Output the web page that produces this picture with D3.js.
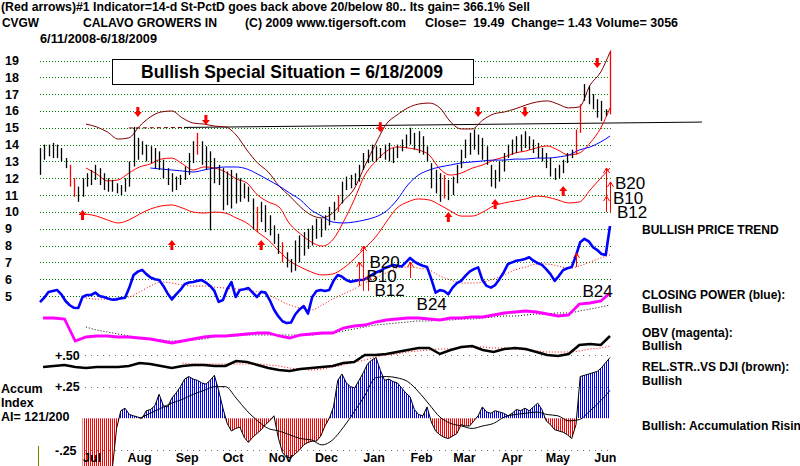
<!DOCTYPE html>
<html>
<head>
<meta charset="utf-8">
<script src="https://cdnjs.cloudflare.com/ajax/libs/d3/7.8.5/d3.min.js"></script>
<style>
  body { margin: 0; background: #fff; }
  text { font-family: Arial, "Liberation Sans", sans-serif; }
</style>
</head>
<body>
<div id="chart"></div>
<script>
let startDate = new Date(2008, 5, 11)
let endDate = new Date(2009, 5, 18)

let priceTicks = [19, 18, 17, 16, 15, 14, 13, 12, 11, 10, 9, 8, 7, 6, 5]
let monthLabels = ['Jul', 'Aug', 'Sep', 'Oct', 'Nov', 'Dec', 'Jan', 'Feb', 'Mar', 'Apr', 'May', 'Jun']
let monthDates = ['2008-07-15', '2008-08-15', '2008-09-15', '2008-10-15', '2008-11-15', '2008-12-15',
  '2009-01-15', '2009-02-15', '2009-03-15', '2009-04-15', '2009-05-15', '2009-06-15']
let aiTicks = [0.5, 0.25, -0.25]
let aiTickLabels = ['+.50', '+.25', '-.25']

// daily bars, sampled every other session
let barHigh = [13.8, 14.0, 14.0, 14.1, 14.0, 13.8, 13.2, 12.8, 12.0, 11.5,
  12.0, 12.3, 12.5, 12.8, 12.6, 12.3, 12.0, 11.9, 11.7, 11.6,
  12.0, 13.0, 15.05, 14.4, 14.2, 14.0, 13.9, 13.8, 13.6, 13.1,
  12.6, 12.3, 12.1, 12.2, 12.7, 13.5, 14.2, 14.7, 14.2, 13.9,
  13.6, 13.2, 12.8, 12.6, 12.4, 12.5, 12.3, 12.0, 11.7, 11.5,
  10.8, 10.3, 10.6, 10.4, 9.8, 9.2, 8.7, 8.2, 7.6, 7.2,
  8.3, 8.6, 8.8, 9.0, 9.2, 9.6, 9.6, 9.8, 10.3, 10.6,
  11.0, 11.8, 12.1, 12.2, 12.3, 12.8, 13.5, 13.7, 14.0, 13.9,
  13.8, 14.0, 14.1, 13.8, 14.0, 14.3, 14.6, 15.0, 14.7, 14.8,
  14.5, 13.9, 12.9, 12.5, 12.3, 12.2, 11.9, 12.1, 12.8, 13.7,
  14.3, 14.7, 14.9, 14.6, 14.4, 13.9, 12.8, 12.5, 13.0, 13.5,
  14.0, 14.3, 14.5, 14.6, 14.8, 14.5, 14.3, 14.1, 13.8, 13.5,
  13.2, 12.6, 12.8, 13.1, 13.5, 13.7, 14.9, 16.4, 17.6, 17.5,
  17.0, 16.7, 16.6, 16.1, 19.6]
let barLow = [12.2, 13.1, 13.3, 13.2, 13.2, 13.0, 12.6, 11.5, 10.9, 10.6,
  10.9, 11.5, 11.6, 11.9, 11.6, 11.3, 11.2, 11.2, 11.1, 11.0,
  11.2, 11.5, 12.7, 13.1, 13.4, 13.0, 12.9, 12.6, 12.5, 12.0,
  11.6, 11.2, 11.3, 11.6, 11.9, 12.2, 12.9, 13.4, 12.8, 12.5,
  8.9, 11.7, 11.6, 10.1, 10.4, 10.2, 10.5, 10.6, 10.8, 10.6,
  9.0, 8.8, 9.4, 8.8, 8.6, 8.1, 7.5, 7.0, 6.7, 6.4,
  6.5, 7.0, 7.4, 7.8, 8.0, 8.4, 8.5, 8.9, 9.2, 9.5,
  10.0, 10.5, 11.3, 11.4, 11.6, 11.8, 12.5, 12.9, 13.0, 13.0,
  13.2, 13.1, 13.0, 12.9, 13.2, 13.6, 13.8, 14.0, 13.7, 13.5,
  13.4, 13.0, 11.4, 11.1, 10.6, 10.8, 10.7, 11.0, 11.7, 12.6,
  13.2, 13.4, 13.7, 13.4, 13.1, 12.8, 11.5, 11.4, 11.8, 12.4,
  13.2, 13.4, 13.5, 13.6, 13.8, 13.7, 13.5, 13.2, 13.0, 12.6,
  12.1, 11.9, 12.0, 12.3, 12.9, 13.2, 13.4, 14.7, 16.6, 16.4,
  16.1, 15.6, 15.4, 15.7, 15.8]
let redBars = [7, 8, 37, 51, 57, 70, 95, 126, 127, 134]

// closing power (drawn on the price scale), same sessions as the bars
let closingPower = [4.64, 4.9, 5.24, 5.3, 5.36, 5.1, 4.7, 4.45, 4.3, 4.29,
  4.94, 5.06, 5.06, 5.2, 5.0, 4.94, 4.85, 4.78, 4.8, 4.86,
  4.9, 5.5, 6.25, 6.45, 6.55, 6.3, 6.1, 6.0, 5.95, 5.6,
  5.15, 4.8, 5.1, 5.36, 5.7, 5.8, 5.83, 5.9, 5.95, 5.8,
  5.6, 5.3, 4.65, 4.76, 5.4, 5.83, 4.94, 5.36, 5.4, 5.47,
  5.2, 4.94, 5.25, 5.2, 4.76, 4.2, 3.8, 3.5, 3.39, 3.42,
  3.9, 4.2, 4.4, 3.95, 4.94, 5.3, 5.36, 5.3, 5.36, 5.9,
  6.25, 6.15, 5.95, 5.85, 5.9, 5.95, 5.95, 6.1, 6.25, 6.4,
  6.5, 6.65, 6.75, 6.84, 6.8, 6.75, 7.0, 7.26, 7.05, 6.9,
  6.8, 6.72, 6.0, 5.2, 5.35, 5.3, 5.1, 5.5, 5.77, 5.9,
  6.2, 6.45, 6.6, 6.7, 5.95, 5.6, 5.5, 5.65, 6.0, 6.4,
  6.9, 7.0, 7.1, 7.14, 7.2, 7.3, 7.1, 6.96, 6.85, 6.6,
  6.3, 5.9, 6.2, 6.55, 6.65, 6.72, 7.4, 8.2, 8.4, 8.25,
  7.9, 7.73, 7.5, 7.44, 9.16]

// accumulation index, same sessions as the bars
let accumIndex = [null, null, null, null, null, null, null, null, null, null,
  -0.4, -0.4, -0.4, -0.4, -0.4, -0.4, -0.4, -0.4, -0.08, 0.06,
  0.08, 0.03, 0.02, 0.01, 0.0, 0.06, 0.07, 0.1, 0.19, 0.1,
  0.09, 0.16, 0.2, 0.25, 0.31, 0.33, 0.31, 0.3, 0.28, 0.27,
  0.3, 0.34, 0.22, 0.08, -0.04, -0.1, -0.08, -0.07, -0.15, -0.19,
  -0.15, -0.12, -0.09, -0.05, -0.02, 0.02, -0.15, -0.27, -0.31, -0.31,
  -0.28, -0.25, -0.21, -0.19, -0.18, -0.18, -0.14, -0.06, 0.0, 0.09,
  0.3, 0.35, 0.28, 0.25, 0.24, 0.3, 0.36, 0.43, 0.46, 0.48,
  0.38, 0.3, 0.31, 0.29, 0.28, 0.24, 0.2, 0.17, 0.07, 0.03,
  0.02, 0.09, -0.03, -0.1, -0.13, -0.15, -0.16, -0.14, -0.12, -0.05,
  -0.06, -0.06, -0.02, 0.02, 0.09, 0.05, 0.04, 0.06, 0.05, 0.04,
  0.02, 0.04, 0.07, 0.06, 0.08, 0.06, 0.09, 0.12, 0.07, -0.02,
  -0.05, -0.09, -0.1, -0.11, -0.13, -0.16, -0.05, 0.33, 0.34, 0.35,
  0.36, 0.37, 0.4, 0.44, 0.48]

// weekly series (Fridays, last point 6/18/2009)
let upperBand = [null, null, null, null, 15.22, 15.05, 14.75, 14.33, 14.4, 15.1,
  15.64, 15.94, 16.0, 15.58, 15.28, 15.22, 15.1, 15.05, 14.57, 13.68,
  12.91, 12.37, 11.54, 10.94, 10.29, 9.81, 9.64, 9.93, 10.65, 11.36,
  12.73, 14.04, 15.22, 15.76, 16.18, 16.41, 16.47, 16.18, 15.34, 14.93,
  14.93, 15.46, 15.82, 15.94, 16.12, 16.35, 16.53, 16.6, 16.41, 16.18,
  16.24, 17.54, 18.32, 19.5]
let midAverage = [null, null, null, null, 12.61, 12.25, 11.84, 11.9, 12.31, 12.67,
  12.85, 13.14, 13.2, 12.85, 12.49, 12.67, 12.61, 12.37, 11.96, 11.72,
  11.0, 10.59, 10.29, 9.28, 8.69, 8.21, 7.97, 8.33, 9.4, 10.71,
  12.19, 13.0, 13.6, 13.86, 13.8, 13.68, 13.38, 12.55, 12.19, 12.31,
  12.6, 12.79, 13.08, 13.26, 13.5, 13.62, 13.8, 13.92, 13.68, 13.38,
  13.5, 14.1, 14.99, 16.18]
let lowerBand = [null, null, null, null, 9.87, 9.75, 9.52, 9.34, 9.52, 9.87,
  10.17, 10.35, 10.41, 10.23, 9.99, 9.93, 9.99, 9.93, 9.64, 9.34,
  8.8, 8.33, 7.67, 7.08, 6.72, 6.43, 6.25, 6.31, 6.66, 7.2,
  7.85, 8.5, 9.4, 10.23, 10.59, 10.77, 10.71, 10.41, 10.05, 9.75,
  9.75, 9.99, 10.35, 10.53, 10.65, 10.77, 10.94, 10.88, 10.71, 10.53,
  10.59, 11.3, 12.01, 12.61]
let longAverage = [null, null, null, null, null, null, null, null, null, null,
  12.61, 12.55, 12.49, 12.43, 12.37, 12.49, 12.61, 12.67, 12.67, 12.55,
  12.25, 11.9, 11.54, 11.12, 10.71, 10.11, 9.75, 9.4, 9.34, 9.4,
  9.52, 9.7, 10.05, 10.71, 11.6, 12.19, 12.49, 12.67, 12.79, 12.91,
  12.97, 13.03, 13.08, 13.08, 13.14, 13.14, 13.2, 13.2, 13.26, 13.38,
  13.68, 13.86, 14.16, 14.51]
let closingPowerMA = [null, null, null, null, 4.88, 4.82, 4.82, 4.88, 4.94, 5.24,
  5.59, 5.83, 5.77, 5.65, 5.59, 5.59, 5.53, 5.47, 5.42, 5.36,
  5.24, 5.06, 4.76, 4.46, 4.29, 4.17, 4.46, 4.82, 5.12, 5.42,
  5.77, 6.07, 6.37, 6.66, 6.72, 6.66, 6.55, 6.19, 5.95, 5.77,
  5.77, 5.83, 6.01, 6.25, 6.55, 6.72, 6.9, 6.9, 6.78, 6.66,
  6.78, 7.02, 7.26, 7.44]
let obv = [27, 27, 26, 4, 8, 9, 9, 8, 8, 7,
  6, 4, 2, 4, 6, 8, 9, 9, 10, 11,
  12, 12, 9, 7, 10, 11, 12, 12, 17, 19,
  20, 23, 25, 26, 27, 27, 26, 25, 27, 27,
  28, 28, 30, 32, 33, 34, 33, 31, 29, 30,
  41, 42, 44, 52]
let obvMA = [null, null, null, null, 18, 15, 13, 11, 9, 7,
  6, 5, 4, 4, 5, 6, 8, 9, 9, 10,
  10, 10, 10, 10, 10, 10, 11, 12, 14, 16,
  18, 20, 21, 22, 23, 24, 24, 25, 25, 26,
  26, 27, 28, 29, 29, 30, 31, 31, 32, 32,
  34, 36, 38, 40]
let relStrength = [33, 34, 35, 33, 32, 33, 33, 33, 34, 37,
  36, 34, 32, 34, 35, 35, 34, 34, 39, 38,
  35, 32, 30, 29, 31, 32, 33, 34, 37, 38,
  45, 45, 46, 48, 50, 52, 52, 46, 50, 53,
  54, 50, 48, 51, 52, 51, 48, 45, 44, 46,
  55, 56, 55, 64]
let relStrengthMA = [null, null, null, null, null, null, null, null, null, null,
  null, null, null, 37, 36, 36, 36, 36, 36, 36,
  36, 35, 34, 32, 31, 30, 31, 33, 35, 38,
  40, 43, 45, 46, 48, 49, 50, 51, 51, 52,
  53, 53, 52, 52, 51, 50, 49, 48, 48, 48,
  49, 51, 52, 54]
let accumIndexMA = [null, null, null, null, null, null, null, null, null, 0.0,
  0.04, 0.08, 0.12, 0.15, 0.19, 0.22, 0.25, 0.25, 0.16, 0.06,
  -0.02, -0.08, -0.1, -0.13, -0.16, -0.17, -0.21, -0.17, -0.07, 0.05,
  0.18, 0.32, 0.33, 0.32, 0.29, 0.21, 0.11, 0.01, -0.04, -0.06,
  -0.08, -0.06, -0.04, 0.01, 0.03, 0.04, 0.05, 0.03, 0.02, -0.02,
  -0.01, 0.06, 0.14, 0.22]

// signals: [bar, price at arrow tip]
let sellArrows = [[23, 15.64], [39, 15.16], [80, 14.74], [103, 15.64], [114, 15.64], [131, 18.55]]
let buyArrows = [[10, 10.11], [31, 8.33], [52, 8.33], [96, 9.99], [107, 10.77], [123, 11.54]]
// thin buy signals: [bar, from price, to price]
let thinArrows = [[75, 5.6, 7.02], [76, 5.3, 7.97], [77, 5.3, 6.25], [87, 6.07, 7.02],
  [126, 6.72, 7.56], [133, 10.0, 12.61], [134, 10.0, 11.78], [133, 10.0, 10.94]]
let signalNames = ['B20', 'B10', 'B12', 'B24', 'B24', 'B20', 'B10', 'B12']
let signalBars = [77, 77, 77, 89, 128, 134, 134, 134]
let signalLevels = [6.66, 5.83, 5.0, 4.17, 4.94, 11.36, 10.47, 9.64]
let signalShift = [2, -1, 7, -2, -2, 5, 3, 7]

let resistDates = [new Date(2008, 7, 8), new Date(2008, 8, 13), new Date(2009, 7, 17)]
let resistLevels = [14.99, 15.02, 15.34]

let headerLine1 = '(Red arrows)#1 Indicator=14-d St-PctD goes back above 20/below 80.. Its gain= 366.1% Sell'
let rightNotes = ['BULLISH PRICE TREND', 'CLOSING POWER (blue):', 'Bullish', 'OBV (magenta):', 'Bullish',
  'REL.STR..VS DJI (brown):', 'Bullish', 'Bullish: Accumulation Rising']
let rightNoteY = [234, 299, 313, 337, 350, 371, 385, 430]

function draw() {
  let svg = d3.select('#chart').append('svg').attr('width', 800).attr('height', 466)
  svg.append('rect').attr('width', 800).attr('height', 466).attr('fill', '#fff')

  let x = d3.scaleTime().domain([startDate, endDate]).range([40, 610])
  let y = d3.scaleLinear().domain([5, 19]).range([296, 60.5])
  let aiY = d3.scaleLinear().domain([-0.25, 0.5]).range([450, 355])
  let obvY = d3.scaleLinear().domain([0, 100]).range([345, 245])
  let rsY = d3.scaleLinear().domain([0, 100]).range([400, 300])

  let n = barHigh.length
  let barDates = barHigh.map(function(d, i) { return new Date(+startDate + i * (endDate - startDate) / (n - 1)) })
  let weekDates = d3.timeFriday.range(new Date(2008, 5, 12), new Date(2009, 5, 13)).concat([endDate])
  let bx = function(i) { return x(barDates[i]) }

  let defs = svg.append('defs')
  function hatch(id, color) {
    let p = defs.append('pattern').attr('id', id).attr('patternUnits', 'userSpaceOnUse')
      .attr('width', 2).attr('height', 4)
    p.append('rect').attr('width', 1).attr('height', 4).attr('fill', color)
  }
  hatch('hatchBlue', '#0000ff')
  hatch('hatchRed', '#ff0000')
  defs.append('clipPath').attr('id', 'clipPos').append('rect')
    .attr('x', 0).attr('y', 0).attr('width', 800).attr('height', aiY(0))
  defs.append('clipPath').attr('id', 'clipNeg').append('rect')
    .attr('x', 0).attr('y', aiY(0)).attr('width', 800).attr('height', 466 - aiY(0))

  // header
  let hdr = svg.append('g').attr('font-weight', 'bold').attr('font-size', '12.5px').attr('fill', '#000')
  hdr.append('text').attr('x', 1).attr('y', 11).attr('textLength', 529).attr('lengthAdjust', 'spacingAndGlyphs').text(headerLine1)
  hdr.append('text').attr('x', 2).attr('y', 27).attr('textLength', 37).attr('lengthAdjust', 'spacingAndGlyphs').text('CVGW')
  hdr.append('text').attr('x', 83).attr('y', 27).attr('textLength', 134).attr('lengthAdjust', 'spacingAndGlyphs').text('CALAVO GROWERS IN')
  hdr.append('text').attr('x', 245).attr('y', 27).attr('textLength', 161).attr('lengthAdjust', 'spacingAndGlyphs').text('(C) 2009 www.tigersoft.com')
  hdr.append('text').attr('x', 425).attr('y', 27).attr('textLength', 253).attr('lengthAdjust', 'spacingAndGlyphs')
    .attr('xml:space', 'preserve').style('white-space', 'pre').text('Close=  19.49  Change= 1.43 Volume= 3056')
  hdr.append('text').attr('x', 40).attr('y', 43).attr('textLength', 117).attr('lengthAdjust', 'spacingAndGlyphs').text('6/11/2008-6/18/2009')

  // price grid
  let grid = svg.append('g')
  grid.selectAll('line').data(priceTicks).enter().append('line')
    .attr('x1', 40).attr('x2', 612)
    .attr('y1', function(d) { return Math.round(y(d)) + 0.5 })
    .attr('y2', function(d) { return Math.round(y(d)) + 0.5 })
    .attr('stroke', '#008000').attr('stroke-dasharray', '1,2')
  svg.append('g').attr('font-weight', 'bold').attr('font-size', '12.5px')
    .selectAll('text').data(priceTicks).enter().append('text')
    .attr('x', 5).attr('y', function(d) { return y(d) + 4.5 }).text(function(d) { return d })

  // ai grid
  svg.append('g').selectAll('line').data(aiTicks).enter().append('line')
    .attr('x1', 85).attr('x2', 612)
    .attr('y1', function(d) { return Math.round(aiY(d)) + 0.5 })
    .attr('y2', function(d) { return Math.round(aiY(d)) + 0.5 })
    .attr('stroke', '#707070').attr('stroke-dasharray', '1,5')
  svg.append('g').attr('font-weight', 'bold').attr('font-size', '12.5px')
    .selectAll('text').data(aiTicks).enter().append('text')
    .attr('x', 55).attr('y', function(d) { return aiY(d) + 4.5 })
    .text(function(d, i) { return aiTickLabels[i] })

  // title box
  svg.append('rect').attr('x', 112.5).attr('y', 59.5).attr('width', 361).attr('height', 25)
    .attr('fill', '#fff').attr('stroke', '#000')
  svg.append('text').attr('x', 292).attr('y', 78).attr('text-anchor', 'middle')
    .attr('font-weight', 'bold').attr('font-size', '17.5px').text('Bullish Special Situation = 6/18/2009')

  function weekLine(values, scale, curve) {
    return d3.line()
      .defined(function(d) { return d != null })
      .x(function(d, i) { return x(weekDates[i]) })
      .y(function(d) { return scale(d) })
      .curve(curve || d3.curveMonotoneX)(values)
  }
  function barLine(values, scale) {
    return d3.line()
      .defined(function(d) { return d != null })
      .x(function(d, i) { return bx(i) })
      .y(function(d) { return scale(d) })(values)
  }

  // accumulation index histogram
  let aiArea = d3.area()
    .defined(function(d) { return d != null })
    .x(function(d, i) { return bx(i) })
    .y0(aiY(0))
    .y1(function(d) { return aiY(d) })
  svg.append('path').attr('d', aiArea(accumIndex)).attr('fill', 'url(#hatchBlue)').attr('clip-path', 'url(#clipPos)')
  svg.append('path').attr('d', aiArea(accumIndex)).attr('fill', 'url(#hatchRed)').attr('clip-path', 'url(#clipNeg)')
  svg.append('path').attr('d', barLine(accumIndex, aiY)).attr('fill', 'none').attr('stroke', '#000').attr('stroke-width', 1)
  svg.append('path').attr('d', weekLine(accumIndexMA, aiY)).attr('fill', 'none').attr('stroke', '#000').attr('stroke-width', 1)

  // relative strength
  svg.append('path').attr('d', weekLine(relStrengthMA, rsY)).attr('fill', 'none')
    .attr('stroke', '#ff0000').attr('stroke-dasharray', '1,2')
  svg.append('path').attr('d', weekLine(relStrength, rsY, d3.curveLinear)).attr('fill', 'none')
    .attr('stroke', '#000').attr('stroke-width', 2.5)

  // obv
  svg.append('path').attr('d', weekLine(obvMA, obvY)).attr('fill', 'none')
    .attr('stroke', '#000').attr('stroke-dasharray', '1,2')
  svg.append('path').attr('d', weekLine(obv, obvY, d3.curveLinear)).attr('fill', 'none')
    .attr('stroke', '#ff00ff').attr('stroke-width', 2.8)

  // closing power
  svg.append('path').attr('d', weekLine(closingPowerMA, y)).attr('fill', 'none')
    .attr('stroke', '#ff0000').attr('stroke-dasharray', '1,2')
  svg.append('path').attr('d', barLine(closingPower, y)).attr('fill', 'none')
    .attr('stroke', '#0000ff').attr('stroke-width', 2.6).attr('stroke-linejoin', 'round')

  // resistance line
  svg.append('line')
    .attr('x1', x(resistDates[0])).attr('y1', y(resistLevels[0]))
    .attr('x2', x(resistDates[1])).attr('y2', y(resistLevels[1]))
    .attr('stroke', '#800000').attr('stroke-dasharray', '4,3')
  svg.append('line')
    .attr('x1', x(resistDates[1])).attr('y1', y(resistLevels[1]))
    .attr('x2', x(resistDates[2])).attr('y2', y(resistLevels[2]))
    .attr('stroke', '#000')

  // bands and averages
  svg.append('path').attr('d', weekLine(upperBand, y)).attr('fill', 'none').attr('stroke', '#800000')
  svg.append('path').attr('d', weekLine(lowerBand, y)).attr('fill', 'none').attr('stroke', '#ff0000')
  svg.append('path').attr('d', weekLine(midAverage, y)).attr('fill', 'none').attr('stroke', '#ff0000')
  svg.append('path').attr('d', weekLine(longAverage, y)).attr('fill', 'none').attr('stroke', '#0000ff')

  // price bars
  svg.append('g').selectAll('line').data(barHigh).enter().append('line')
    .attr('x1', function(d, i) { return Math.round(bx(i)) + 0.5 })
    .attr('x2', function(d, i) { return Math.round(bx(i)) + 0.5 })
    .attr('y1', function(d) { return y(d) })
    .attr('y2', function(d, i) { return y(barLow[i]) })
    .attr('stroke', function(d, i) { return redBars.indexOf(i) >= 0 ? '#ff0000' : '#000' })
    .attr('stroke-width', 1.3)

  // arrows
  let arrows = svg.append('g').attr('fill', '#ff0000')
  sellArrows.forEach(function(a) {
    let ax = bx(a[0]), ay = y(a[1])
    arrows.append('path').attr('d', 'M' + ax + ',' + ay + 'l-4,-5h2.5v-5h3v5h2.5z')
  })
  buyArrows.forEach(function(a) {
    let ax = bx(a[0]), ay = y(a[1])
    arrows.append('path').attr('d', 'M' + ax + ',' + ay + 'l-4,5h2.5v5h3v-5h2.5z')
  })
  let thin = svg.append('g').attr('stroke', '#ff0000').attr('fill', 'none')
  thinArrows.forEach(function(a) {
    let ax = Math.round(bx(a[0])) + 0.5, y0 = y(a[1]), y1 = y(a[2])
    thin.append('path').attr('d', 'M' + ax + ',' + y0 + 'V' + y1 + 'M' + (ax - 3) + ',' + (y1 + 5) + 'L' + ax + ',' + y1 + 'L' + (ax + 3) + ',' + (y1 + 5))
  })

  svg.append('g').attr('font-size', '17px').selectAll('text').data(signalNames).enter().append('text')
    .attr('x', function(d, i) { return bx(signalBars[i]) + signalShift[i] })
    .attr('y', function(d, i) { return y(signalLevels[i]) })
    .text(function(d) { return d })

  // month axis
  svg.append('g').attr('font-weight', 'bold').attr('font-size', '12.5px')
    .selectAll('text').data(monthLabels).enter().append('text')
    .attr('x', function(d, i) { return x(d3.timeParse('%Y-%m-%d')(monthDates[i])) })
    .attr('y', 462).attr('text-anchor', 'middle').text(function(d) { return d })

  // left notes
  let left = svg.append('g').attr('font-weight', 'bold').attr('font-size', '12.5px')
  left.append('text').attr('x', 1).attr('y', 393).text('Accum')
  left.append('text').attr('x', 1).attr('y', 407).text('Index')
  left.append('text').attr('x', 1).attr('y', 421).text('AI= 121/200')
  svg.append('line').attr('x1', 38.5).attr('x2', 38.5).attr('y1', 446).attr('y2', 466).attr('stroke', '#808000')

  // right notes
  svg.append('g').attr('font-weight', 'bold').attr('font-size', '12px')
    .selectAll('text').data(rightNotes).enter().append('text')
    .attr('x', 642).attr('y', function(d, i) { return rightNoteY[i] }).text(function(d) { return d })
}

draw()
</script>
</body>
</html>
